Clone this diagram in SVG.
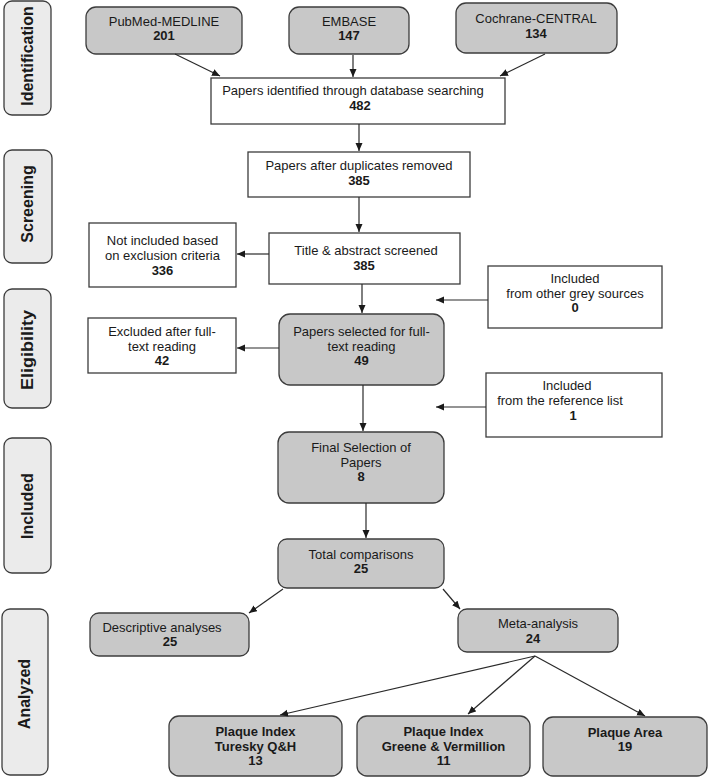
<svg xmlns="http://www.w3.org/2000/svg" width="709" height="778" viewBox="0 0 709 778">
<style>
.side{fill:#ebebeb;stroke:#3c3c3c;stroke-width:1.3}
.grey{fill:#c8c8c8;stroke:#3c3c3c;stroke-width:1.3}
.white{fill:#ffffff;stroke:#3c3c3c;stroke-width:1.3}
text{font-family:"Liberation Sans",Arial,sans-serif;font-size:13px;fill:#1a1a1a;text-anchor:middle}
.b{font-weight:bold}
.lab{font-weight:bold;font-size:16px}
.conn line{stroke:#2a2a2a;stroke-width:1.2;marker-end:url(#ah)}
</style>
<defs>
<marker id="ah" markerUnits="userSpaceOnUse" markerWidth="9" markerHeight="8" refX="8" refY="3.5" orient="auto">
<path d="M0,0 L8,3.5 L0,7 z" fill="#1a1a1a"/>
</marker>
</defs>
<rect width="709" height="778" fill="#ffffff"/>

<g id="label-identification"><rect class="side" x="4" y="1" width="47" height="114" rx="8"/><text class="lab" transform="translate(32.5,56) rotate(-90)">Identification</text></g>
<g id="label-screening"><rect class="side" x="4" y="150" width="48" height="113" rx="8"/><text class="lab" transform="translate(32.5,204) rotate(-90)">Screening</text></g>
<g id="label-eligibility"><rect class="side" x="4" y="289" width="47" height="119" rx="8"/><text class="lab" transform="translate(32.5,350) rotate(-90)" textLength="80" lengthAdjust="spacingAndGlyphs">Eligibility</text></g>
<g id="label-included"><rect class="side" x="4" y="438" width="47" height="135" rx="8"/><text class="lab" transform="translate(32.5,506) rotate(-90)">Included</text></g>
<g id="label-analyzed"><rect class="side" x="2" y="609" width="46" height="166" rx="8"/><text class="lab" transform="translate(29.5,694) rotate(-90)">Analyzed</text></g>

<g id="pubmed"><rect class="grey" x="86" y="7" width="156" height="47" rx="10"/><text x="164" y="26">PubMed-MEDLINE</text><text class="b" x="164" y="40">201</text></g>
<g id="embase"><rect class="grey" x="289" y="7" width="120" height="47" rx="10"/><text x="349" y="26">EMBASE</text><text class="b" x="349" y="40">147</text></g>
<g id="cochrane"><rect class="grey" x="456" y="3" width="161" height="50" rx="10"/><text x="536" y="23">Cochrane-CENTRAL</text><text class="b" x="536" y="38">134</text></g>
<g id="identified"><rect class="white" x="211" y="78" width="294" height="46"/><text x="353" y="95">Papers identified through database searching</text><text class="b" x="360" y="110">482</text></g>
<g id="duplicates"><rect class="white" x="248" y="152" width="222" height="45"/><text x="359" y="170">Papers after duplicates removed</text><text class="b" x="359" y="185">385</text></g>
<g id="screened"><rect class="white" x="269" y="233" width="191" height="51"/><text x="366" y="255">Title &amp; abstract screened</text><text class="b" x="364" y="270">385</text></g>
<g id="not-included"><rect class="white" x="89" y="223" width="147" height="64"/><text x="162.5" y="245">Not included based</text><text x="162.5" y="260">on exclusion criteria</text><text class="b" x="162.5" y="275">336</text></g>
<g id="grey-sources"><rect class="white" x="488" y="266" width="174" height="62"/><text x="575" y="283">Included</text><text x="575" y="298">from other grey sources</text><text class="b" x="575" y="312">0</text></g>
<g id="full-text"><rect class="grey" x="279" y="314" width="165" height="71" rx="11"/><text x="361.5" y="336">Papers selected for full-</text><text x="361.5" y="350.5">text reading</text><text class="b" x="361.5" y="365">49</text></g>
<g id="excluded"><rect class="white" x="88" y="318" width="148" height="55"/><text x="162" y="336">Excluded after full-</text><text x="162" y="350.5">text reading</text><text class="b" x="162" y="365">42</text></g>
<g id="reference-list"><rect class="white" x="486" y="373" width="176" height="64"/><text x="567" y="390">Included</text><text x="560" y="405">from the reference list</text><text class="b" x="573" y="420">1</text></g>
<g id="final"><rect class="grey" x="278" y="432" width="166" height="71" rx="11"/><text x="361" y="452">Final Selection of</text><text x="361" y="467">Papers</text><text class="b" x="361" y="481">8</text></g>
<g id="total"><rect class="grey" x="278" y="539" width="166" height="49" rx="9"/><text x="361" y="559">Total comparisons</text><text class="b" x="361" y="573">25</text></g>
<g id="descriptive"><rect class="grey" x="90" y="613" width="159" height="43" rx="9"/><text x="162" y="632">Descriptive analyses</text><text class="b" x="170" y="646">25</text></g>
<g id="meta"><rect class="grey" x="458" y="609" width="160" height="43" rx="9"/><text x="538" y="628">Meta-analysis</text><text class="b" x="533" y="643">24</text></g>
<g id="turesky"><rect class="grey" x="169" y="716" width="173" height="60" rx="10"/><text class="b" x="255.5" y="736">Plaque Index</text><text class="b" x="255.5" y="750.5">Turesky Q&amp;H</text><text class="b" x="255.5" y="765">13</text></g>
<g id="greene"><rect class="grey" x="357" y="716" width="173" height="60" rx="10"/><text class="b" x="443.5" y="736">Plaque Index</text><text class="b" x="443.5" y="750.5">Greene &amp; Vermillion</text><text class="b" x="443.5" y="765">11</text></g>
<g id="area"><rect class="grey" x="543" y="717" width="164" height="59" rx="10"/><text class="b" x="625" y="736.5">Plaque Area</text><text class="b" x="625" y="750.5">19</text></g>

<g id="connectors" class="conn">
<line x1="175" y1="54" x2="220" y2="76"/>
<line x1="353" y1="55" x2="353" y2="77"/>
<line x1="545" y1="54" x2="500" y2="76"/>
<line x1="359" y1="124" x2="359" y2="151"/>
<line x1="359" y1="197" x2="359" y2="232"/>
<line x1="269" y1="254" x2="237" y2="254"/>
<line x1="362" y1="284" x2="362" y2="313"/>
<line x1="488" y1="300" x2="436" y2="300"/>
<line x1="279" y1="348" x2="237" y2="348"/>
<line x1="486" y1="407" x2="436" y2="407"/>
<line x1="363" y1="385" x2="363" y2="431"/>
<line x1="366" y1="503" x2="366" y2="538"/>
<line x1="283" y1="589" x2="249" y2="613"/>
<line x1="443" y1="589" x2="460" y2="609"/>
<line x1="535" y1="656" x2="280" y2="715"/>
<line x1="535" y1="656" x2="468" y2="714"/>
<line x1="535" y1="656" x2="645" y2="716"/>
</g>
</svg>
